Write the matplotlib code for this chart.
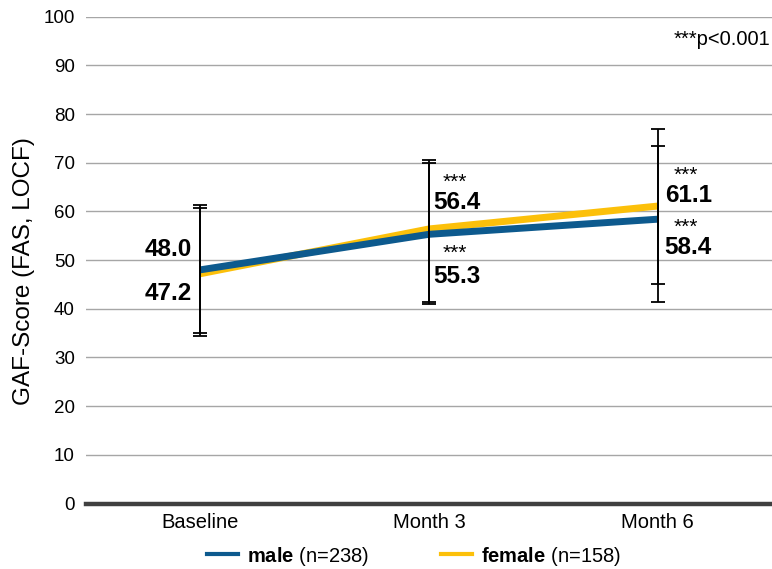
import numpy as np
import matplotlib
matplotlib.use('Agg')
import matplotlib.pyplot as plt
from matplotlib.lines import Line2D

plt.rcParams['font.family'] = ['Liberation Sans', 'DejaVu Sans']
plt.rcParams['mathtext.fontset'] = 'custom'
plt.rcParams['mathtext.bf'] = 'Liberation Sans:bold'
plt.rcParams['mathtext.rm'] = 'Liberation Sans'

visits = ['Baseline', 'Month 3', 'Month 6']
male_mean = [48.0, 55.3, 58.4]
female_mean = [47.2, 56.4, 61.1]
# error bar lengths (below / above the mean)
male_err_lo = [13.6, 14.4, 17.0]
male_err_hi = [13.3, 14.7, 15.1]
female_err_lo = [12.1, 15.0, 16.0]
female_err_hi = [13.5, 14.1, 15.9]
male_stars = ['', '***', '***']
female_stars = ['', '***', '***']
male_label = r'$\mathbf{male}$ (n=238)'
female_label = r'$\mathbf{female}$ (n=158)'

blue = '#0d5a8e'
yellow = '#fcc00a'

fig = plt.figure(figsize=(7.72, 5.69), dpi=100)
ax = fig.add_axes([86 / 772, 1 - 503.5 / 569, 686 / 772, 486.8 / 569])

x = np.arange(len(visits))
ax.plot(x, female_mean, color=yellow, lw=5, solid_capstyle='butt', zorder=3)
ax.plot(x, male_mean, color=blue, lw=5, solid_capstyle='butt', zorder=4)

ax.errorbar(x, male_mean, yerr=[male_err_lo, male_err_hi], fmt='none', ecolor='black',
            elinewidth=1.3, capsize=4.8, capthick=1.3, zorder=5)
ax.errorbar(x, female_mean, yerr=[female_err_lo, female_err_hi], fmt='none', ecolor='black',
            elinewidth=1.3, capsize=4.8, capthick=1.3, zorder=5)

# value labels (offsets in pixels from the point)
male_off = [(-8, 14), (4, -49), (7, -35)]
female_off = [(-8, -26.7), (4, 20), (7, 4)]
male_star_off = [None, (14, -25), (16, -14)]
female_star_off = [None, (14, 41), (16, 25)]
for i in range(len(visits)):
    ha = 'right' if i == 0 else 'left'
    ax.annotate('%.1f' % male_mean[i], (x[i], male_mean[i]), xytext=male_off[i],
                textcoords='offset pixels', ha=ha, va='baseline', fontsize=17.5,
                fontweight='bold', zorder=6)
    ax.annotate('%.1f' % female_mean[i], (x[i], female_mean[i]), xytext=female_off[i],
                textcoords='offset pixels', ha=ha, va='baseline', fontsize=17.5,
                fontweight='bold', zorder=6)
    if male_stars[i]:
        ax.annotate(male_stars[i], (x[i], male_mean[i]), xytext=male_star_off[i],
                    textcoords='offset pixels', ha='left', va='baseline', fontsize=15)
    if female_stars[i]:
        ax.annotate(female_stars[i], (x[i], female_mean[i]), xytext=female_star_off[i],
                    textcoords='offset pixels', ha='left', va='baseline', fontsize=15)

ax.set_xlim(-0.5, 2.5)
ax.set_ylim(0, 100)
ax.set_yticks(np.arange(0, 101, 10))
ax.set_xticks(x)
ax.set_xticklabels(visits)
ax.tick_params(axis='x', length=0, pad=6.5, labelsize=14.5)
ax.tick_params(axis='y', length=0, pad=8, labelsize=13.5)
ax.yaxis.grid(True, color='#a6a6a6', lw=1)
ax.set_axisbelow(True)
for s in ['left', 'right', 'top']:
    ax.spines[s].set_visible(False)
ax.spines['bottom'].set_linewidth(3.2)
ax.spines['bottom'].set_color('#404040')

fig.text(24 / 772, 1 - 271 / 569, 'GAF-Score (FAS, LOCF)', rotation=90,
         ha='center', va='center', fontsize=17.5)
fig.text(770 / 772, 1 - 45 / 569, '***p<0.001', ha='right', va='baseline', fontsize=14.5)

handles = [Line2D([], [], color=blue, lw=3), Line2D([], [], color=yellow, lw=3)]
fig.legend(handles, [male_label, female_label], loc='center',
           bbox_to_anchor=(414 / 772, 1 - 556 / 569), ncol=2, frameon=False,
           fontsize=14.5, handlelength=1.5, handletextpad=0.45, columnspacing=3.6)

plt.savefig('out.png', dpi=100)
